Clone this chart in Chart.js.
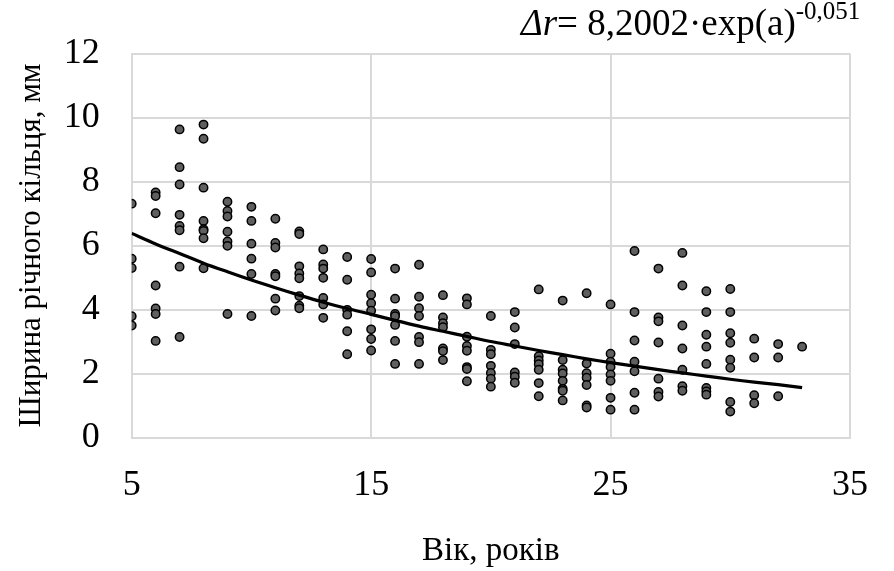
<!DOCTYPE html>
<html>
<head>
<meta charset="utf-8">
<script src="https://cdn.jsdelivr.net/npm/chart.js@4.4.1/dist/chart.umd.min.js"></script>
<style>
  html, body { margin: 0; padding: 0; background: #fff; }
  #wrap { width: 894px; height: 571px; }
</style>
</head>
<body>
<div id="wrap"><canvas id="chartCanv" width="894" height="571"></canvas></div>
<script>
// ages (years) and ring widths (mm) measured at each age
const ages = [5, 6, 7, 8, 9, 10, 11, 12, 13, 14, 15, 16, 17, 18, 19,
              20, 21, 22, 23, 24, 25, 26, 27, 28, 29, 30, 31, 32, 33];
const widthsByAge = [
    [7.31, 5.59, 5.30, 3.79, 3.50],
    [7.66, 7.55, 7.01, 4.75, 4.03, 3.86, 3.02],
    [9.63, 8.45, 7.91, 6.96, 6.61, 6.48, 5.34, 3.14],
    [9.78, 9.34, 7.81, 6.77, 6.51, 6.46, 6.23, 5.29],
    [7.37, 7.08, 6.91, 6.43, 6.13, 5.99, 3.86],
    [7.21, 6.77, 6.06, 5.59, 5.11, 3.80],
    [6.84, 6.08, 5.94, 5.11, 5.04, 4.34, 3.97],
    [6.44, 6.36, 5.35, 5.13, 4.98, 4.42, 4.12, 4.04],
    [5.88, 5.41, 5.28, 4.99, 4.36, 4.16, 3.74],
    [5.64, 4.93, 3.99, 3.84, 3.32, 2.60],
    [5.58, 5.16, 4.46, 4.20, 3.96, 3.38, 3.08, 2.72],
    [5.28, 4.34, 3.86, 3.79, 3.52, 3.02, 2.30],
    [5.40, 4.40, 4.04, 3.80, 3.14, 2.98, 2.30],
    [4.45, 3.75, 3.57, 3.45, 2.78, 2.70, 2.42],
    [4.35, 4.16, 3.15, 2.86, 2.71, 2.20, 2.14, 1.76],
    [3.80, 2.74, 2.60, 2.24, 2.02, 1.84, 1.59],
    [3.92, 3.44, 2.92, 2.03, 1.90, 1.71],
    [4.63, 2.54, 2.41, 2.29, 2.12, 1.70, 1.29],
    [4.28, 2.42, 2.12, 2.00, 1.77, 1.52, 1.46, 1.16],
    [4.51, 2.31, 2.01, 1.87, 1.64, 1.00, 0.94],
    [4.16, 2.62, 2.37, 2.20, 1.97, 1.77, 1.24, 0.87],
    [5.83, 3.92, 3.03, 2.37, 2.07, 1.40, 0.87],
    [5.28, 3.75, 3.63, 2.97, 1.84, 1.42, 1.28],
    [5.77, 4.75, 3.50, 2.78, 2.12, 1.60, 1.46],
    [4.57, 3.92, 3.21, 2.84, 2.30, 1.55, 1.44, 1.34],
    [4.64, 3.92, 3.26, 2.96, 2.43, 2.18, 1.11, 0.81],
    [3.09, 2.50, 1.32, 1.07],
    [2.92, 2.50, 1.29],
    [2.84]
];
// trend line, one value per age
const trendWidths = [6.38, 6.05, 5.75, 5.45, 5.18, 4.92, 4.68, 4.45, 4.23, 4.03,
                     3.85, 3.66, 3.48, 3.32, 3.16, 3.00, 2.86, 2.72, 2.59, 2.46,
                     2.34, 2.23, 2.12, 2.02, 1.92, 1.82, 1.73, 1.65, 1.56];

const xTicks = [5, 15, 25, 35];
const yTicks = [0, 2, 4, 6, 8, 10, 12];

const FONT = '"Liberation Serif", "Times New Roman", serif';
const GRID = '#d9d9d9';

let scatterPts = [];
ages.forEach((a, i) => {
    widthsByAge[i].forEach(w => scatterPts.push({x: a, y: w}));
});
let trendPts = ages.map((a, i) => ({x: a, y: trendWidths[i]}));

// equation text in the top right corner
const equationPlugin = {
    id: 'equation',
    afterDraw(chart) {
        const ctx = chart.ctx;
        ctx.save();
        ctx.fillStyle = '#000';
        ctx.textBaseline = 'alphabetic';
        let x = 521, y = 35;
        ctx.font = 'italic 37px ' + FONT;
        ctx.fillText('\u0394r', x, y);
        x += ctx.measureText('\u0394r').width;
        ctx.font = '37px ' + FONT;
        let txt = '= 8,2002\u00B7exp(a)';
        ctx.fillText(txt, x, y);
        x += ctx.measureText(txt).width;
        ctx.font = '25px ' + FONT;
        ctx.fillText('-0,051', x, 19);
        ctx.restore();
    }
};

const chartCanv = document.getElementById('chartCanv');
const ringChart = new Chart(chartCanv, {
    type: 'scatter',
    data: {
        datasets: [{
            type: 'line',
            label: 'trend',
            data: trendPts,
            borderColor: '#000',
            borderWidth: 3.2,
            pointRadius: 0,
            tension: 0.3,
            fill: false
        },
        {
            label: 'ring width',
            data: scatterPts,
            backgroundColor: '#5f5f5f',
            borderColor: '#000',
            borderWidth: 1.5,
            pointRadius: 4.2
        }]
    },
    plugins: [equationPlugin],
    options: {
        responsive: false,
        animation: false,
        layout: { padding: { top: 37.3, right: 22.3, left: 0, bottom: 0 } },
        plugins: { legend: { display: false }, tooltip: { enabled: false } },
        scales: {
            x: {
                type: 'linear',
                min: 5, max: 35,
                afterBuildTicks: s => { s.ticks = xTicks.map(v => ({value: v})); },
                afterFit: s => { s.height = 133.5; },
                grid: { color: GRID, lineWidth: 2, drawTicks: false },
                border: { color: GRID, width: 2 },
                ticks: { color: '#000', padding: 26, font: { family: FONT, size: 36 } },
                title: {
                    display: true, text: 'Вік, років', color: '#000',
                    padding: { top: 0, bottom: 0 },
                    font: { family: FONT, size: 33 }
                }
            },
            y: {
                min: 0, max: 12,
                afterBuildTicks: s => { s.ticks = yTicks.map(v => ({value: v})); },
                afterFit: s => { s.width = 131.7; },
                grid: { color: GRID, lineWidth: 2, drawTicks: false },
                border: { color: GRID, width: 2 },
                ticks: { color: '#000', padding: 32, font: { family: FONT, size: 36 } },
                title: {
                    display: true, text: 'Ширина річного кільця, мм', color: '#000',
                    padding: { top: 13, bottom: 0 },
                    font: { family: FONT, size: 31 }
                }
            }
        }
    }
});
</script>
</body>
</html>
